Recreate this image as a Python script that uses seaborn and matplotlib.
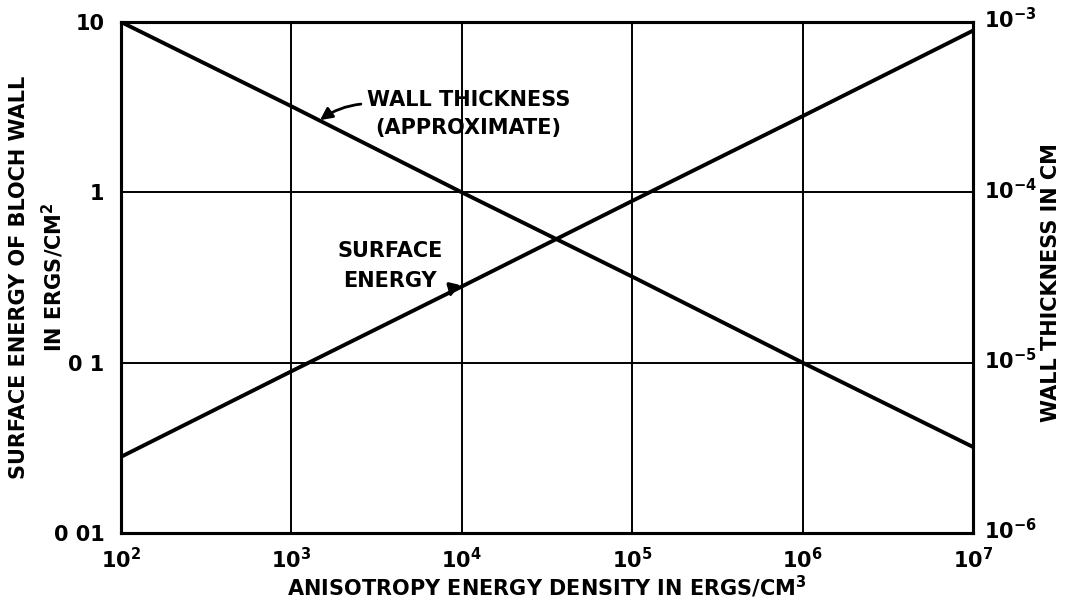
import numpy as np
import pandas as pd
import matplotlib
matplotlib.use("Agg")
import matplotlib.pyplot as plt
import matplotlib.transforms as mtransforms
import seaborn as sns

# Data
anisotropy = [1e2, 1e3, 1e4, 1e5, 1e6, 1e7]
surface_energy = [0.028, 0.089, 0.28, 0.89, 2.8, 8.9]          # ergs/cm^2 (left axis)
wall_thickness = [1e-3, 3.2e-4, 1e-4, 3.2e-5, 1e-5, 3.2e-6]     # cm (right axis)

x_ticks = [1e2, 1e3, 1e4, 1e5, 1e6, 1e7]
x_ticklabels = [r"$10^{2}$", r"$10^{3}$", r"$10^{4}$", r"$10^{5}$", r"$10^{6}$", r"$10^{7}$"]
left_ticks = [0.01, 0.1, 1, 10]
left_ticklabels = ["0 01", "0 1", "1", "10"]
right_ticks = [1e-6, 1e-5, 1e-4, 1e-3]
right_ticklabels = [r"$10^{-6}$", r"$10^{-5}$", r"$10^{-4}$", r"$10^{-3}$"]

sns.set_theme(style="white")
plt.rcParams['font.family'] = ['DejaVu Sans']
plt.rcParams['mathtext.fontset'] = 'custom'
plt.rcParams['mathtext.rm'] = 'DejaVu Sans:bold'
plt.rcParams['mathtext.it'] = 'DejaVu Sans:bold'
plt.rcParams['mathtext.bf'] = 'DejaVu Sans:bold'
plt.rcParams['mathtext.default'] = 'rm'
for k in ("text.color", "axes.labelcolor", "xtick.color", "ytick.color"):
    plt.rcParams[k] = "black"

df = pd.DataFrame({"K": anisotropy, "sigma": surface_energy, "delta": wall_thickness})

fig = plt.figure(figsize=(10.8, 6.03), dpi=100)
ax = fig.add_axes([121/1080, 1-533/603, (973-121)/1080, (533-22)/603])
ax2 = ax.twinx()

sns.lineplot(data=df, x="K", y="sigma", ax=ax, color="black", linewidth=2.8)
sns.lineplot(data=df, x="K", y="delta", ax=ax2, color="black", linewidth=2.8)

for a in (ax, ax2):
    a.set_xscale("log")
    a.set_yscale("log")
    a.set_xlim(1e2, 1e7)
    a.minorticks_off()
    for s in a.spines.values():
        s.set_linewidth(2.2)
        s.set_color("black")
ax.set_ylim(0.01, 10)
ax2.set_ylim(1e-6, 1e-3)

fs = 15
ax.set_xticks(x_ticks)
ax.set_xticklabels(x_ticklabels, fontsize=fs)
ax.set_yticks(left_ticks)
ax.set_yticklabels(left_ticklabels, fontsize=fs, fontweight="bold")
ax2.set_yticks(right_ticks)
ax2.set_yticklabels(right_ticklabels, fontsize=fs)
ax2.tick_params(axis="y", length=0, pad=8)
ax.tick_params(axis="y", length=0, pad=12)
ax.tick_params(axis="x", length=0, pad=10)

shift = mtransforms.ScaledTranslation(0, 3/72, fig.dpi_scale_trans)
for lbl in ax2.get_yticklabels():
    lbl.set_transform(lbl.get_transform() + shift)

ax.grid(True, which="major", color="black", linewidth=1.4)

ax.set_xlabel("ANISOTROPY ENERGY DENSITY IN ERGS/CM$^3$", fontsize=fs, fontweight="bold")
ax.set_ylabel("SURFACE ENERGY OF BLOCH WALL\nIN ERGS/CM$^2$", fontsize=fs, fontweight="bold",
              linespacing=1.5)
ax2.set_ylabel("WALL THICKNESS IN CM", fontsize=fs, fontweight="bold")
ax.xaxis.label.set_va("center")
ax.yaxis.label.set_va("center")
ax2.yaxis.label.set_va("center")
ax.xaxis.set_label_coords(0.5, -0.105)
ax.yaxis.set_label_coords(-0.0985, 0.5)
ax2.yaxis.set_label_coords(1.092, 0.49)

ax.annotate("WALL THICKNESS\n(APPROXIMATE)", xy=(0.2336, 0.808), xycoords="axes fraction",
            xytext=(0.408, 0.82), textcoords="axes fraction", ha="center", va="center",
            fontsize=fs, fontweight="bold", linespacing=1.45,
            arrowprops=dict(arrowstyle="-|>", color="black", lw=2.0, mutation_scale=18,
                            connectionstyle="arc3,rad=0.15", shrinkA=2, shrinkB=0,
                            relpos=(0.0, 0.72)))
ax.annotate("SURFACE\nENERGY", xy=(0.386, 0.461), xycoords="axes fraction",
            xytext=(0.316, 0.5225), textcoords="axes fraction", ha="center", va="center",
            fontsize=fs, fontweight="bold", linespacing=1.6,
            arrowprops=dict(arrowstyle="-|>", color="black", lw=2.0, mutation_scale=18,
                            connectionstyle="arc3,rad=-0.35", shrinkA=2, shrinkB=0,
                            relpos=(1.0, 0.22)))

fig.savefig("out.png", dpi=100)
